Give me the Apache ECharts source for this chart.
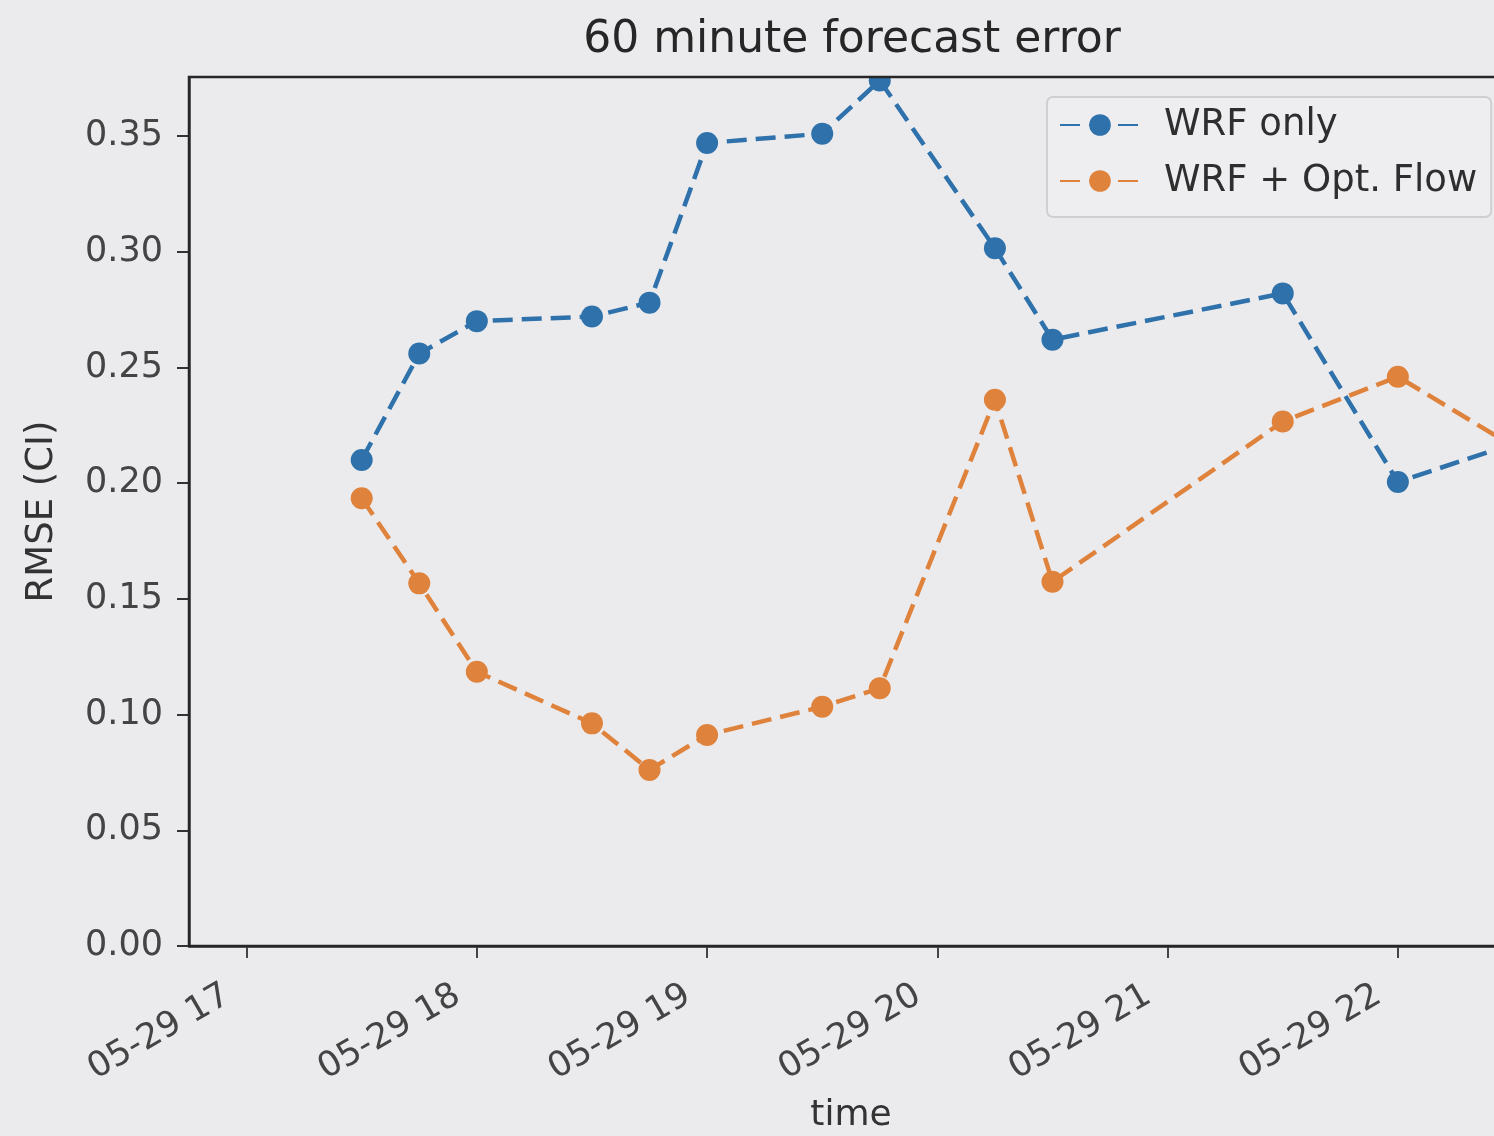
<!DOCTYPE html>
<html>
<head>
<meta charset="utf-8">
<script src="https://cdn.jsdelivr.net/npm/echarts@6/dist/echarts.min.js"></script>
<style>
  html, body { margin: 0; padding: 0; background: #ebebee; overflow: hidden; }
  /* the axes run a little past the right edge of the window */
  #chart { width: 1520px; height: 1136px; }
</style>
</head>
<body>
<div id="chart"></div>
<script>
// Forecast valid times (on 05-29) and RMSE of the clear-sky index for each run
const times = ['17:30', '17:45', '18:00', '18:30', '18:45', '19:00', '19:30',
               '19:45', '20:15', '20:30', '21:30', '22:00', '22:30'];
const wrfOnly    = [0.210, 0.256, 0.270, 0.272, 0.278, 0.347, 0.351,
                    0.374, 0.3015, 0.262, 0.282, 0.2005, 0.217];
const wrfOptFlow = [0.1935, 0.1567, 0.1185, 0.0962, 0.0761, 0.0912, 0.1034,
                    0.1114, 0.236, 0.1574, 0.2266, 0.246, 0.216];
const seriesNames = ['WRF only', 'WRF + Opt. Flow'];

// Axis ticks and ranges
const xTickHours  = [17, 18, 19, 20, 21, 22];
const xTickLabels = ['05-29 17', '05-29 18', '05-29 19', '05-29 20', '05-29 21', '05-29 22'];
const xRange = ['16:45', '22:30'];
const yTickValues = [0.00, 0.05, 0.10, 0.15, 0.20, 0.25, 0.30, 0.35];
const yRange = [0, 0.3755];

const BG = '#ebebee';
const FONT = 'DejaVu Sans';
const BLUE = '#2f71aa';
const ORANGE = '#df823b';

// clock time "HH:MM" -> decimal hours of the day
const toHours = hm => { const [h, m] = hm.split(':').map(Number); return h + m / 60; };
const pairs = vals => times.map((t, i) => [toHours(t), vals[i]]);

const chart = echarts.init(document.getElementById('chart'), null, { renderer: 'canvas' });

const GRID = { left: 189, top: 77, width: 1324, height: 869 };

chart.setOption({
  backgroundColor: BG,
  animation: false,
  title: {
    text: '60 minute forecast error',
    left: 847,
    textAlign: 'center',
    top: 14,
    z: 60,
    textStyle: { fontFamily: FONT, fontSize: 44, fontWeight: 'normal', color: '#262626' }
  },
  graphic: [
    // keeps markers from spilling over the top edge of the axes
    { type: 'rect', left: 0, top: 0, z: 40, silent: true,
      shape: { width: 1520, height: 76 }, style: { fill: BG } }
  ],
  grid: {
    left: GRID.left, top: GRID.top, width: GRID.width, height: GRID.height,
    outerBoundsMode: 'none', containLabel: false,
    show: true, z: 45, backgroundColor: 'transparent',
    borderColor: '#262626', borderWidth: 2.5
  },
  legend: {
    orient: 'vertical',
    left: 1047, top: 97,
    padding: [8, 14, 16, 12],
    itemGap: 16,
    itemWidth: 80, itemHeight: 27,
    backgroundColor: 'rgba(238,238,241,0.85)',
    borderColor: '#cfcfd3', borderWidth: 2, borderRadius: 6,
    z: 50,
    textStyle: { fontFamily: FONT, fontSize: 37, color: '#2e2e2e', lineHeight: 40, padding: [0, 0, 0, 19] },
    data: seriesNames
  },
  xAxis: {
    type: 'value',
    min: toHours(xRange[0]), max: toHours(xRange[1]),
    name: 'time', nameLocation: 'middle', nameGap: 152,
    nameTextStyle: { fontFamily: FONT, fontSize: 36, color: '#333' },
    splitLine: { show: false },
    axisLine: { show: true, onZero: false, lineStyle: { color: '#333', width: 2.5 } },
    axisTick: { show: true, length: 12, lineStyle: { color: '#444', width: 2 }, customValues: xTickHours },
    axisLabel: {
      customValues: xTickHours,
      rotate: 30, margin: 36,
      fontFamily: FONT, fontSize: 35, color: '#444',
      padding: [0, 22, 0, 0],
      formatter: v => xTickLabels[xTickHours.indexOf(Math.round(v))]
    }
  },
  yAxis: {
    type: 'value',
    min: yRange[0], max: yRange[1],
    name: 'RMSE (CI)', nameLocation: 'middle', nameGap: 128, nameRotate: 90,
    nameTextStyle: { fontFamily: FONT, fontSize: 37, color: '#333' },
    splitLine: { show: false },
    axisLine: { show: true, lineStyle: { color: '#444', width: 2.5 } },
    axisTick: { show: true, length: 12, lineStyle: { color: '#333', width: 2 }, customValues: yTickValues },
    axisLabel: {
      customValues: yTickValues,
      margin: 26,
      fontFamily: FONT, fontSize: 35, color: '#444',
      formatter: v => v.toFixed(2)
    }
  },
  series: [
    {
      name: seriesNames[0], type: 'line', data: pairs(wrfOnly),
      symbol: 'circle', symbolSize: 22, clip: true,
      lineStyle: { color: BLUE, width: 4.5, type: [20, 9] },
      itemStyle: { color: BLUE }
    },
    {
      name: seriesNames[1], type: 'line', data: pairs(wrfOptFlow),
      symbol: 'circle', symbolSize: 22, clip: true,
      lineStyle: { color: ORANGE, width: 4.5, type: [20, 9] },
      itemStyle: { color: ORANGE }
    }
  ]
});
</script>
</body>
</html>
